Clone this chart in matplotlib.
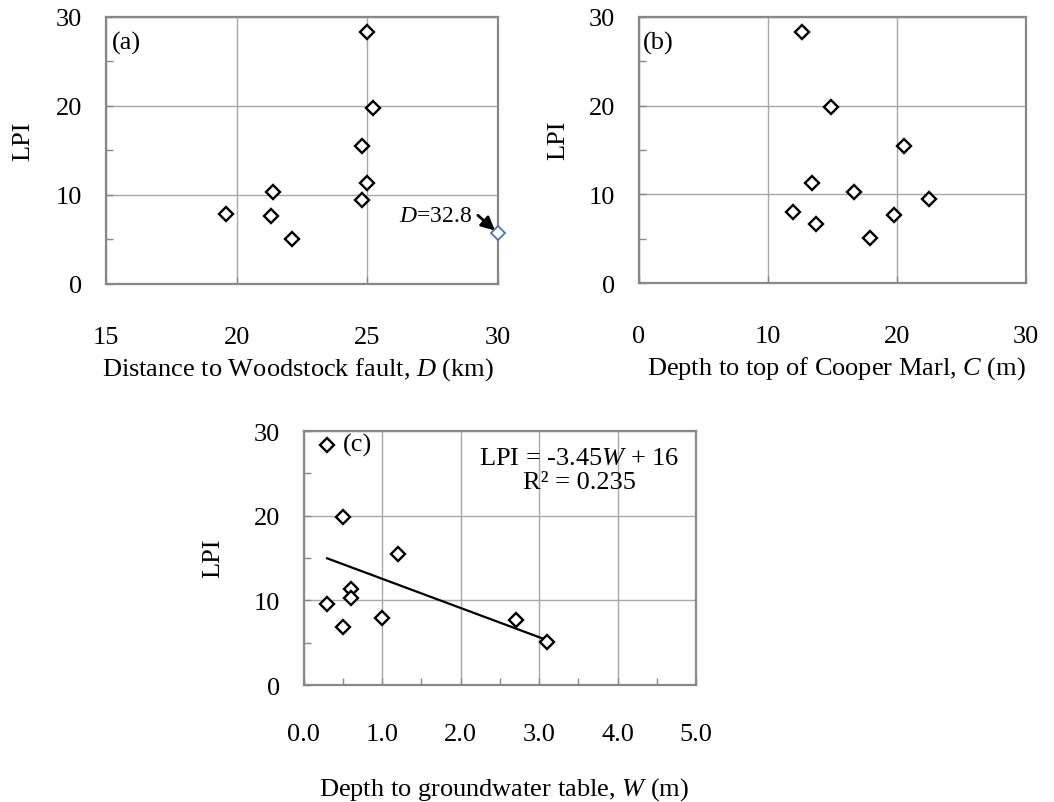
import matplotlib
matplotlib.use('Agg')
import matplotlib.pyplot as plt
import numpy as np

# site data: distance to fault (km), depth to Cooper Marl (m), depth to groundwater (m)
dist_fault = [25.0, 25.2, 24.8, 25.0, 21.4, 24.8, 19.6, 21.3, 22.1, 32.8]
lpi_a = [28.3, 19.8, 15.5, 11.3, 10.3, 9.4, 7.9, 7.6, 5.1, 5.7]

depth_marl = [12.6, 14.9, 20.5, 13.4, 16.7, 22.5, 11.9, 19.8, 13.7, 17.9]
lpi_b = [28.3, 19.8, 15.5, 11.3, 10.3, 9.5, 8.0, 7.7, 6.7, 5.1]

depth_gw = [0.3, 0.5, 1.2, 0.6, 0.6, 0.3, 1.0, 0.5, 2.7, 3.1]
lpi_c = [28.3, 19.8, 15.5, 11.3, 10.3, 9.6, 7.9, 6.8, 7.7, 5.1]

# linear fit reported on panel (c)
slope, intercept, r2 = -3.45, 16, 0.235

plt.rcParams['font.family'] = ['Liberation Serif', 'DejaVu Serif']
plt.rcParams['mathtext.fontset'] = 'custom'
plt.rcParams['mathtext.rm'] = 'Liberation Serif'
plt.rcParams['mathtext.it'] = 'Liberation Serif:italic'

FS = 19
SPINE = '#888888'
GRID = '#a8a8a8'

fig = plt.figure(figsize=(10.54, 8.03), dpi=100)


def style_axes(ax, xlim, xticks, xpad):
    ax.set_xlim(*xlim)
    ax.set_xticks(xticks)
    ax.set_ylim(0, 30)
    ax.set_yticks([0, 10, 20, 30])
    ax.set_yticks([5, 15, 25], minor=True)
    ax.grid(True, which='major', color=GRID, lw=1)
    ax.set_axisbelow(True)
    for sp in ax.spines.values():
        sp.set_color(SPINE)
        sp.set_linewidth(1.6)
    ax.tick_params(which='both', direction='in', color=SPINE, length=5, width=1,
                   labelsize=FS)
    ax.tick_params(axis='x', which='both', pad=xpad)
    ax.tick_params(axis='y', which='both', pad=17)


def scatter(ax, x, y):
    ax.plot(x, y, ls='none', marker='D', ms=6.7, mfc='white', mec='black',
            mew=1.7, zorder=3, clip_on=False)


def labels(ax, xlabel, xpos, ypos):
    ax.set_xlabel(xlabel, fontsize=FS)
    ax.xaxis.set_label_coords(*xpos)
    ax.xaxis.label.set_va('center')
    ax.set_ylabel('LPI', fontsize=FS)
    ax.yaxis.set_label_coords(*ypos)
    ax.yaxis.label.set_va('center')


# (a) distance to Woodstock fault
ax_a = fig.add_axes([0.1006, 0.6451, 0.3719, 0.3325])
style_axes(ax_a, (15, 30), [15, 20, 25, 30], 30)
xmax_a = 30
d = np.array(dist_fault)
inside = d <= xmax_a
scatter(ax_a, d[inside], np.array(lpi_a)[inside])
# the far site sits beyond the axis, so it is pinned to the right edge
ax_a.plot(np.minimum(d[~inside], xmax_a), np.array(lpi_a)[~inside], ls='none',
          marker='D', ms=6.7, mfc='white', mec='#3f6fa8', mew=1.2, zorder=4,
          clip_on=False)
ax_a.annotate('$D$=%.1f' % d[~inside][0],
              xy=(xmax_a, np.array(lpi_a)[~inside][0]),
              xytext=(-26, 18), textcoords='offset pixels', ha='right',
              va='center', fontsize=17,
              arrowprops=dict(arrowstyle='-|>', color='black', lw=2.0,
                              relpos=(1, 0.75), shrinkA=3, shrinkB=3,
                              mutation_scale=20))
ax_a.text(0.015, 0.906, '(a)', transform=ax_a.transAxes, ha='left', va='center',
          fontsize=FS)
labels(ax_a, 'Distance to Woodstock fault, $D$ (km)', (0.49, -0.315), (-0.21, 0.54))

# (b) depth to top of Cooper Marl
ax_b = fig.add_axes([0.6063, 0.6463, 0.3672, 0.3313])
style_axes(ax_b, (0, 30), [0, 10, 20, 30], 30)
scatter(ax_b, depth_marl, lpi_b)
ax_b.text(0.01, 0.906, '(b)', transform=ax_b.transAxes, ha='left', va='center',
          fontsize=FS)
labels(ax_b, 'Depth to top of Cooper Marl, $C$ (m)', (0.509, -0.316), (-0.209, 0.54))

# (c) depth to groundwater table, with trend line
ax_c = fig.add_axes([0.288, 0.1457, 0.3724, 0.3163])
style_axes(ax_c, (0, 5), [0, 1, 2, 3, 4, 5], 27)
ax_c.set_xticks(np.arange(0.5, 5, 1.0), minor=True)
ax_c.xaxis.set_major_formatter(matplotlib.ticker.FormatStrFormatter('%.1f'))
w = np.array([min(depth_gw), max(depth_gw)])
ax_c.plot(w, slope * w + intercept, color='black', lw=1.6, zorder=2)
scatter(ax_c, depth_gw, lpi_c)
ax_c.text(0.10, 0.949, '(c)', transform=ax_c.transAxes, ha='left', va='center',
          fontsize=FS)
ax_c.text(0.702, 0.847, 'LPI = %.2f$W$ + %g\nR² = %.3f' % (slope, intercept, r2),
          transform=ax_c.transAxes, ha='center', va='center', fontsize=FS,
          multialignment='center', linespacing=1.15)
labels(ax_c, 'Depth to groundwater table, $W$ (m)', (0.51, -0.409), (-0.23, 0.504))

fig.savefig('out.png', dpi=100)
